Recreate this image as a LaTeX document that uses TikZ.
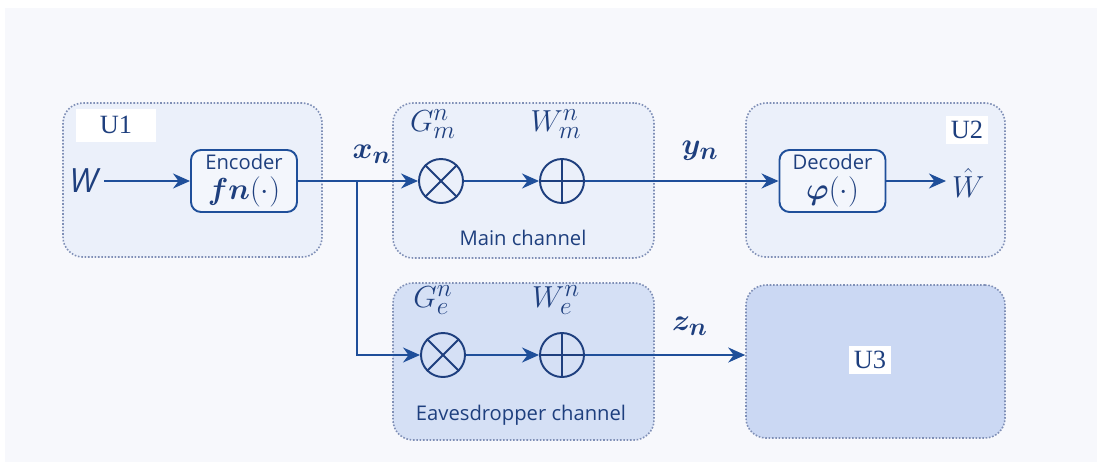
\documentclass[tikz,border=0pt]{standalone}
\usepackage{fontspec}
\usepackage{bm}
\setmainfont{Liberation Serif}
\setsansfont{Open Sans}
\usetikzlibrary{arrows.meta}

\definecolor{lineblue}{HTML}{1F4F9A}
\definecolor{textblue}{HTML}{1E3F7E}
\definecolor{dotgray}{HTML}{7F8FB6}
\definecolor{boxfill}{HTML}{EBF0FA}
\definecolor{evefill}{HTML}{D5E0F5}
\definecolor{ubfill}{HTML}{CBD8F3}
\definecolor{panel}{HTML}{F7F8FC}

\begin{document}
\begin{tikzpicture}[x=0.2mm, y=-0.2mm,
    unitbox/.style={draw=dotgray, densely dotted, line width=0.9pt, rounded corners=4mm, fill=boxfill},
    coder/.style={draw=lineblue, line width=1.1pt, rounded corners=2mm, fill=boxfill!60!white,
                  minimum width=21.2mm, minimum height=12.4mm, inner sep=0pt, align=center,
                  font=\sffamily\fontsize{11.5}{13}\selectfont, text=textblue},
    mixer/.style={circle, draw=textblue, line width=1.1pt, minimum size=8.8mm, inner sep=0pt},
    flow/.style={draw=lineblue, line width=1.3pt, -{Stealth[length=3.4mm, width=3mm]}},
    userlbl/.style={fill=white, inner sep=3pt, text=textblue, font=\fontsize{15}{18}\selectfont},
    sym/.style={text=textblue, font=\fontsize{19}{22}\selectfont},
    chan/.style={text=textblue, font=\sffamily\fontsize{11.5}{14}\selectfont}]

    % fond et cadre
    \useasboundingbox (0,0) rectangle (1102,469);
    \fill[panel] (5,8) rectangle (1097,462);

    % les quatre blocs
    \node[unitbox, minimum width=51.8mm, minimum height=30.8mm] (u1) at (192.5,180) {};
    \node[unitbox, minimum width=52.2mm, minimum height=31mm] (mainch) at (523.5,180.5) {};
    \node[unitbox, minimum width=51.8mm, minimum height=30.8mm] (u2) at (875.5,180) {};
    \node[unitbox, fill=evefill, minimum width=52.2mm, minimum height=31.4mm] (evech) at (523.5,361.5) {};
    \node[unitbox, fill=ubfill, minimum width=51.8mm, minimum height=30.6mm] (u3) at (875.5,361.5) {};

    % etiquettes des blocs
    \node[userlbl, minimum width=16mm, minimum height=6.6mm] (u1lbl) at (116,125) {U1};
    \node[userlbl] (u2lbl) at (967,130) {U2};
    \node[userlbl] (u3lbl) at (870,360) {U3};
    \node[chan] (mainlbl) at (523,238) {Main channel};
    \node[chan] (evelbl) at (521,415) {Eavesdropper channel};

    % codeur et decodeur
    \node[coder] (enc) at (244,181) {Encoder\\[3pt]{\fontsize{16}{16}\selectfont$\bm{fn}(\cdot)$}};
    \node[coder] (dec) at (832.5,181) {Decoder\\[3pt]{\fontsize{16}{16}\selectfont$\bm{\varphi}(\cdot)$}};

    % multiplieurs et sommateurs
    \node[mixer] (gm) at (441,181) {};
    \node[mixer] (wm) at (562,181) {};
    \node[mixer] (ge) at (443,355) {};
    \node[mixer] (we) at (562,355) {};
    \foreach \m in {gm,ge} {
        \draw[textblue, line width=1.1pt] (\m.north east) -- (\m.south west);
        \draw[textblue, line width=1.1pt] (\m.north west) -- (\m.south east);
    }
    \foreach \m in {wm,we} {
        \draw[textblue, line width=1.1pt] (\m.north) -- (\m.south);
        \draw[textblue, line width=1.1pt] (\m.west) -- (\m.east);
    }

    % symboles
    \node[sym, anchor=east, font=\sffamily\itshape\fontsize{19}{22}\selectfont] (win) at (104,181) {W};
    \node[sym, anchor=west] (wout) at (946,183) {$\hat{W}$};
    \node[sym] (gmlbl) at (433,124) {$G_m^n$};
    \node[sym] (wmlbl) at (556,124) {$W_m^n$};
    \node[sym] (gelbl) at (433,300) {$G_e^n$};
    \node[sym] (welbl) at (556,300) {$W_e^n$};
    \node[sym] (xlbl) at (372,154) {$\bm{x_n}$};
    \node[sym] (ylbl) at (700,151) {$\bm{y}_{\bm{n}}$};
    \node[sym] (zlbl) at (690,326) {$\bm{z_n}$};

    % liaisons
    \coordinate (split) at (357,181);
    \draw[flow] (win) -- (enc);
    \draw[flow] (enc) -- (gm);
    \draw[flow] (gm) -- (wm);
    \draw[flow] (wm) -- (dec);
    \draw[flow] (dec) -- (wout.west |- dec);
    \draw[flow] (split) |- (ge);
    \draw[flow] (ge) -- (we);
    \draw[flow] (we) -- (we -| u3.west);

\end{tikzpicture}
\end{document}
